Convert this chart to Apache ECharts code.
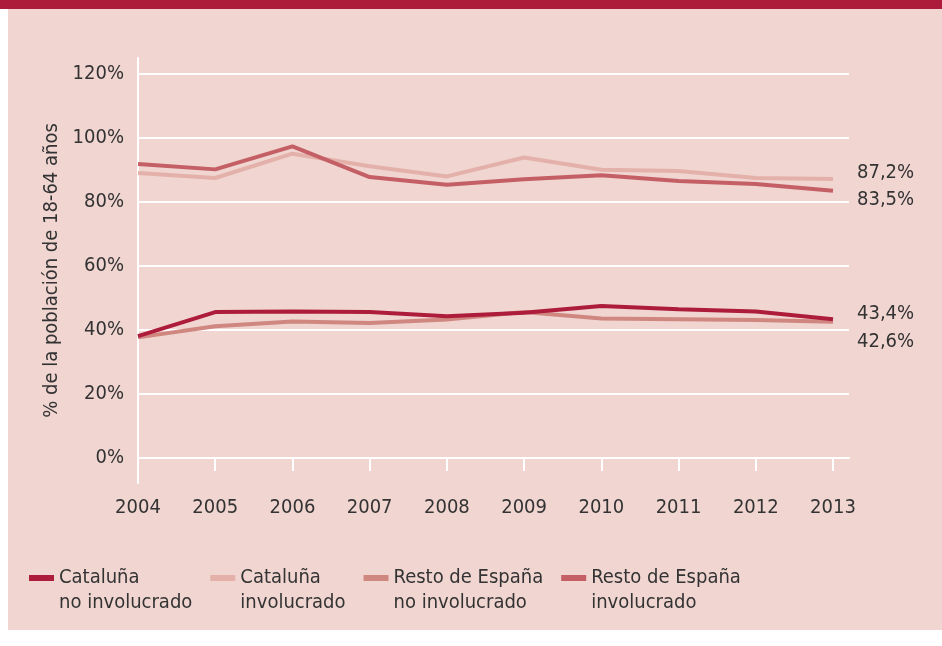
<!DOCTYPE html>
<html>
<head>
<meta charset="utf-8">
<script src="https://cdn.jsdelivr.net/npm/echarts@6/dist/echarts.min.js"></script>
<style>
  body { margin: 0; background: #fff; }
  .wrap { position: relative; width: 942px; height: 646px; }
  .band { position: absolute; left: 0; top: 0; width: 942px; height: 9px; background: #ad1c3a; }
  .panel { position: absolute; left: 8px; top: 9px; width: 934px; height: 621px; background: #f0d5d1; }
  #chart { position: absolute; left: 0; top: 0; width: 942px; height: 646px; }
</style>
</head>
<body>
<div class="wrap">
  <div class="band"></div>
  <div class="panel"></div>
  <div id="chart"></div>
</div>
<script>
// años
const years = [2004, 2005, 2006, 2007, 2008, 2009, 2010, 2011, 2012, 2013];
const yTicks = [0, 20, 40, 60, 80, 100, 120];

// % de la población de 18-64 años
const cataluniaNoInv = [38.1, 45.6, 45.8, 45.6, 44.3, 45.4, 47.5, 46.5, 45.8, 43.4];
const cataluniaInv = [89.1, 87.5, 95.1, 91.2, 88.0, 93.9, 90.1, 89.7, 87.5, 87.2];
const restoNoInv = [37.7, 41.2, 42.7, 42.2, 43.3, 45.6, 43.6, 43.4, 43.1, 42.6];
const restoInv = [91.9, 90.2, 97.4, 87.8, 85.4, 87.1, 88.4, 86.6, 85.6, 83.5];

const FONT = '"DejaVu Sans Condensed", "DejaVu Sans", sans-serif';
const TXT = "#333333";
const FS = 20;

const fmt = (v) => v.toFixed(1).replace(".", ",") + "%";

const mkSeries = (name, values, color, z, dy) => ({
  name,
  type: "line",
  data: years.map((y, i) => [y, values[i]]),
  showSymbol: false,
  z,
  lineStyle: { width: 4, color },
  itemStyle: { color },
  endLabel: {
    show: true,
    distance: 24,
    offset: [0, dy],
    color: TXT,
    fontFamily: FONT,
    fontSize: FS,
    formatter: (p) => fmt(p.value[1]),
  },
});

const names = [
  "Cataluña\nno involucrado",
  "Cataluña\ninvolucrado",
  "Resto de España\nno involucrado",
  "Resto de España\ninvolucrado",
];

const chart = echarts.init(document.getElementById("chart"));

chart.setOption({
  backgroundColor: "transparent",
  animation: false,
  grid: { left: 138, right: 93, top: 58, bottom: 163 },
  legend: {
    data: names,
    left: 29,
    top: 565,
    padding: 0,
    itemGap: 18,
    // bar at the top of a 25x30 box so it lines up with the first text line
    icon: "path://M0,0 H25 V6 H0 Z M0,29.95 H0.05 V30 H0 Z",
    itemWidth: 25,
    itemHeight: 30,
    selectedMode: false,
    textStyle: {
      color: TXT,
      fontFamily: FONT,
      fontSize: FS,
      lineHeight: 25,
    },
  },
  xAxis: {
    type: "value",
    min: 2004,
    max: 2013.207,
    axisLine: { onZero: true, lineStyle: { color: "#fff", width: 2 } },
    axisTick: { show: true, length: 13, customValues: years, lineStyle: { color: "#fff", width: 2 } },
    axisLabel: {
      customValues: years,
      margin: 15,
      color: TXT,
      fontFamily: FONT,
      fontSize: FS,
      formatter: (v) => String(v),
    },
    splitLine: { show: false },
  },
  yAxis: {
    type: "value",
    min: -7.8,
    max: 125,
    name: "% de la población de 18-64 años",
    nameLocation: "middle",
    nameRotate: 90,
    nameGap: 72,
    nameTextStyle: { color: TXT, fontFamily: FONT, fontSize: FS },
    axisLine: { show: true, lineStyle: { color: "#fff", width: 2 } },
    axisTick: { show: false, customValues: yTicks },
    axisLabel: {
      customValues: yTicks,
      margin: 14,
      color: TXT,
      fontFamily: FONT,
      fontSize: FS,
      formatter: (v) => v + "%",
    },
    splitLine: { show: true, lineStyle: { color: "#fff", width: 2 } },
  },
  series: [
    mkSeries(names[2], restoNoInv, "#cf8780", 2, 20),
    mkSeries(names[3], restoInv, "#c46065", 3, 9),
    mkSeries(names[1], cataluniaInv, "#e4b1aa", 2, -6),
    mkSeries(names[0], cataluniaNoInv, "#ad1c3a", 4, -5),
  ],
});
</script>
</body>
</html>
